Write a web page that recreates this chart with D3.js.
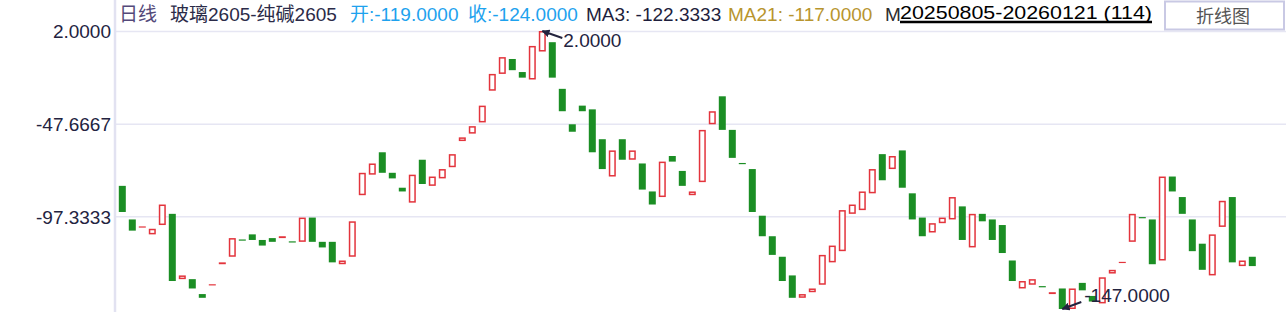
<!DOCTYPE html>
<html>
<head>
<meta charset="utf-8">
<script src="https://cdn.jsdelivr.net/npm/d3@7"></script>
<style>
	html, body { margin: 0; padding: 0; background: #fff; }
	svg { display: block; font-family: 'Liberation Sans', Arial, 'Noto Sans CJK SC', sans-serif; }
</style>
</head>
<body>
<div id="chart"></div>
<script>
// spread 玻璃2605-纯碱2605, daily, 20250805-20260121
const opens = [
	-81, -99, -103, -107, -102, -96, -131, -131, -139, -134,
	-123, -119, -110, -107, -110, -109, -109, -111, -111, -98,
	-111, -111, -123, -119, -86, -75, -63, -74, -82, -90,
	-67, -81, -77, -71, -57, -53, -47, -30, -21, -13,
	-20, -24, -9, -4, -29, -48, -38, -40, -56, -76,
	-56, -67, -69, -84, -87, -65, -73, -86, -79, -48,
	-33, -51, -69, -72, -97, -108, -119, -129, -141, -138,
	-134, -122, -116, -96, -94, -85, -64, -72, -62, -85,
	-98, -106, -101, -99, -92, -114, -96, -99, -102, -121,
	-136, -134, -135, -139, -136, -147, -133, -140, -144, -128,
	-122, -111, -98, -99, -121, -76, -87, -99, -112, -129,
	-103, -87, -124, -119
];
const closes = [
	-95, -105, -103, -104, -91, -132, -129, -136, -141, -134,
	-122, -109, -110, -110, -113, -111, -108, -111, -98, -111,
	-114, -122, -121, -100, -74, -69, -74, -77, -84, -75,
	-80, -76, -72, -64, -55, -49, -38, -21, -12, -19,
	-23, -6, 2, -23, -41, -52, -41, -63, -72, -62,
	-67, -62, -83, -91, -68, -68, -81, -84, -51, -41,
	-51, -66, -69, -95, -108, -118, -132, -141, -139, -136,
	-118, -113, -94, -91, -84, -72, -78, -65, -82, -99,
	-108, -101, -98, -87, -110, -96, -100, -110, -117, -132,
	-132, -131, -135, -138, -147, -136, -137, -143, -130, -126,
	-122, -96, -98, -123, -76, -84, -96, -116, -126, -107,
	-89, -122, -121, -124
];
const tickValues = [2.0, -47.6667, -97.3333];
const yDomain = [-147, 2];

const W = 1286, H = 312;
const AXIS_X = 115;
const UP = '#e3343c', DOWN = '#1b8e24';
const INK = '#23233f';
const fmt = d => d.toFixed(4);

const svg = d3.select('#chart').append('svg')
	.attr('width', W)
	.attr('height', H);

const x = d3.scaleBand()
	.domain(d3.range(opens.length))
	.range([117.3, 1257.3])
	.paddingInner(0.3)
	.paddingOuter(0.15);

const y = d3.scaleLinear()
	.domain(yDomain)
	.range([309, 31]);

// grid
svg.append('g')
	.attr('transform', `translate(${AXIS_X},0)`)
	.call(d3.axisRight(y).tickValues(tickValues).tickSize(W - AXIS_X).tickFormat(''))
	.call(g => g.select('.domain').remove())
	.call(g => g.selectAll('line').attr('stroke', '#e6e6f3').attr('stroke-width', 1.5));

// y labels
svg.append('g')
	.attr('transform', `translate(${AXIS_X - 4},0)`)
	.call(d3.axisLeft(y).tickValues(tickValues).tickSize(0).tickPadding(0).tickFormat(fmt))
	.call(g => g.select('.domain').remove())
	.call(g => g.selectAll('text')
		.attr('fill', INK)
		.attr('dy', '0.36em')
		.style('font-size', '19px')
		.style('font-family', "'Liberation Sans', Arial, sans-serif"));

svg.append('line')
	.attr('x1', AXIS_X).attr('x2', AXIS_X)
	.attr('y1', 0).attr('y2', H)
	.attr('stroke', '#e2e2f1')
	.attr('stroke-width', 2.5);

// candles
const isUp = function(i) {
	if (closes[i] !== opens[i]) return closes[i] > opens[i];
	return i > 0 ? closes[i] >= closes[i - 1] : true;
};

svg.append('g')
	.selectAll('rect')
	.data(d3.range(opens.length))
	.join('rect')
		.each(function(i) {
			const top = y(Math.max(opens[i], closes[i]));
			const bot = y(Math.min(opens[i], closes[i]));
			const h = bot - top;
			const sel = d3.select(this);
			const up = isUp(i);
			if (h < 1) {
				sel.attr('x', x(i)).attr('width', x.bandwidth())
					.attr('y', top - 0.5).attr('height', 1.2)
					.attr('fill', up ? UP : DOWN);
			} else if (!up) {
				sel.attr('x', x(i)).attr('width', x.bandwidth())
					.attr('y', top).attr('height', h)
					.attr('fill', DOWN);
			} else if (h < 3) {
				sel.attr('x', x(i)).attr('width', x.bandwidth())
					.attr('y', top).attr('height', Math.max(h, 1.5))
					.attr('fill', UP);
			} else {
				sel.attr('x', x(i) + 0.75).attr('width', x.bandwidth() - 1.5)
					.attr('y', top + 0.75).attr('height', h - 1.5)
					.attr('fill', '#fff')
					.attr('stroke', UP)
					.attr('stroke-width', 1.5);
			}
		});

// max / min markers
svg.append('defs').append('marker')
	.attr('id', 'head')
	.attr('viewBox', '0 0 10 10')
	.attr('refX', 9).attr('refY', 5)
	.attr('markerWidth', 4).attr('markerHeight', 4)
	.attr('orient', 'auto')
	.append('path')
		.attr('d', 'M0,0L10,5L0,10z')
		.attr('fill', INK);

const allVals = opens.concat(closes);
const hi = d3.max(allVals), lo = d3.min(allVals);
const hiIdx = closes.indexOf(hi) >= 0 ? closes.indexOf(hi) : opens.indexOf(hi);
const loIdx = closes.indexOf(lo) >= 0 ? closes.indexOf(lo) : opens.indexOf(lo);
const cx = i => x(i) + x.bandwidth() / 2;

const marks = [
	{ i: hiIdx, v: hi, tx: cx(hiIdx) + 21, ty: y(hi) + 16, lx: cx(hiIdx) + 20, ly: y(hi) + 7 },
	{ i: loIdx, v: lo, tx: cx(loIdx) + 22, ty: y(lo) - 7, lx: cx(loIdx) + 19, ly: y(lo) - 7 }
];

marks.forEach(function(m) {
	svg.append('line')
		.attr('x1', m.lx).attr('y1', m.ly)
		.attr('x2', cx(m.i)).attr('y2', y(m.v))
		.attr('stroke', INK)
		.attr('stroke-width', 2)
		.attr('marker-end', 'url(#head)');
	svg.append('text')
		.attr('x', m.tx).attr('y', m.ty)
		.attr('fill', INK)
		.style('font-size', '19px')
		.text(fmt(m.v));
});

// header
const header = [
	{ x: 119, t: '日线', c: '#54497a' },
	{ x: 170, t: '玻璃2605-纯碱2605', c: '#2b2b48' },
	{ x: 350, t: '开:-119.0000', c: '#1ea2ee' },
	{ x: 468, t: '收:-124.0000', c: '#1ea2ee' },
	{ x: 586, t: 'MA3: -122.3333', c: '#1e1e3c' },
	{ x: 728, t: 'MA21: -117.0000', c: '#b8952e' },
	{ x: 885, t: 'M', c: '#2b2b2b' }
];

svg.append('g')
	.selectAll('text')
	.data(header)
	.join('text')
		.attr('x', d => d.x)
		.attr('y', 21)
		.attr('fill', d => d.c)
		.style('font-size', '19px')
		.text(d => d.t);

svg.append('rect')
	.attr('x', 900).attr('y', 0)
	.attr('width', 254).attr('height', 24)
	.attr('fill', '#fff');

svg.append('text')
	.attr('x', 900).attr('y', 19)
	.attr('fill', '#000')
	.attr('textLength', 252)
	.attr('lengthAdjust', 'spacingAndGlyphs')
	.style('font-size', '19px')
	.text('20250805-20260121 (114)');

svg.append('line')
	.attr('x1', 900).attr('x2', 1152)
	.attr('y1', 22).attr('y2', 22)
	.attr('stroke', '#000')
	.attr('stroke-width', 2.5);

svg.append('rect')
	.attr('x', 1165).attr('y', 1.5)
	.attr('width', 119).attr('height', 28)
	.attr('fill', '#fff')
	.attr('stroke', '#c9c9e4')
	.attr('stroke-width', 2);

svg.append('text')
	.attr('x', 1223).attr('y', 23)
	.attr('text-anchor', 'middle')
	.attr('fill', '#555')
	.style('font-size', '18px')
	.style('font-family', "'Noto Sans CJK SC', sans-serif")
	.text('折线图');
</script>
</body>
</html>
